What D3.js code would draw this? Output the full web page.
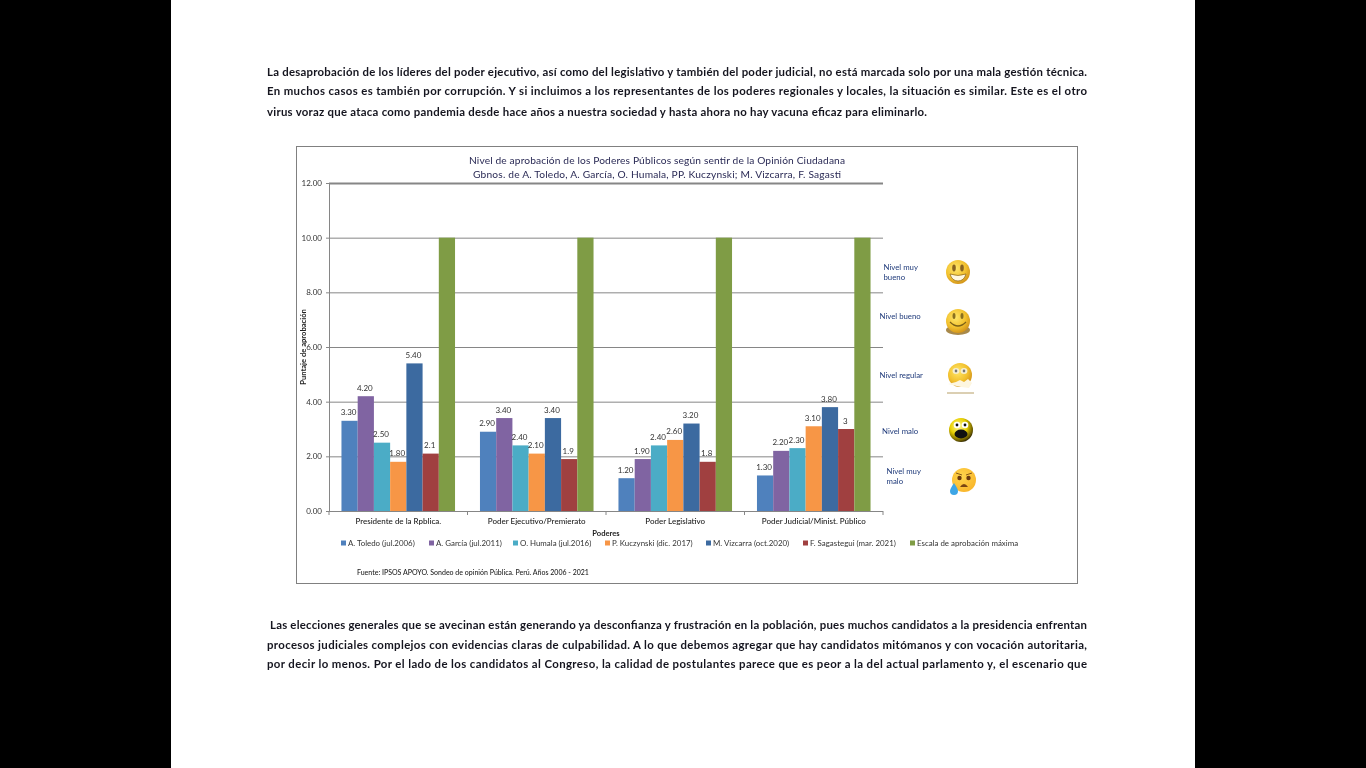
<!DOCTYPE html>
<html lang="es"><head><meta charset="utf-8">
<script src="https://cdnjs.cloudflare.com/ajax/libs/d3/7.8.5/d3.min.js"></script>
<style>
html,body{margin:0;padding:0;background:#000;overflow:hidden}
svg{display:block;filter:blur(.45px)}
text{font-family:Lato,"Noto Sans",sans-serif}
</style></head><body><svg id="c" width="1366" height="768"></svg>
<script>
const categories=["Presidente de la Rpblica.","Poder Ejecutivo/Premierato","Poder Legislativo","Poder Judicial/Minist. Público"];
const seriesNames=["A. Toledo (jul.2006)","A. García (jul.2011)","O. Humala (jul.2016)","P. Kuczynski (dic. 2017)","M. Vizcarra (oct.2020)","F. Sagastegui (mar. 2021)","Escala de aprobación máxima"];
const seriesColors=["#4f81bd","#8064a2","#4bacc6","#f79646","#3c6aa0","#a04040","#7f9c45"];
const toledo=[3.3,2.9,1.2,1.3];
const garcia=[4.2,3.4,1.9,2.2];
const humala=[2.5,2.4,2.4,2.3];
const kuczynski=[1.8,2.1,2.6,3.1];
const vizcarra=[5.4,3.4,3.2,3.8];
const sagasti=[2.1,1.9,1.8,3];
const maxima=[10,10,10,10];
const seriesValues=[toledo,garcia,humala,kuczynski,vizcarra,sagasti,maxima];
const seriesLabels=[["3.30","2.90","1.20","1.30"],["4.20","3.40","1.90","2.20"],["2.50","2.40","2.40","2.30"],["1.80","2.10","2.60","3.10"],["5.40","3.40","3.20","3.80"],["2.1","1.9","1.8","3"],null];
const yTicks=[0,2,4,6,8,10,12];
const titleLines=["Nivel de aprobación de los Poderes Públicos según sentir de la Opinión Ciudadana","Gbnos. de A. Toledo, A. García, O. Humala, PP. Kuczynski; M. Vizcarra, F. Sagasti"];
const paragraphTop=["La desaprobación de los líderes del poder ejecutivo, así como del legislativo y también del poder judicial, no está marcada solo por una mala gestión técnica.","En muchos casos es también por corrupción. Y si incluimos a los representantes de los poderes regionales y locales, la situación es similar. Este es el otro","virus voraz que ataca como pandemia desde hace años a nuestra sociedad y hasta ahora no hay vacuna eficaz para eliminarlo."];
const paragraphBottom=["Las elecciones generales que se avecinan están generando ya desconfianza y frustración en la población, pues muchos candidatos a la presidencia enfrentan","procesos judiciales complejos con evidencias claras de culpabilidad. A lo que debemos agregar que hay candidatos mitómanos y con vocación autoritaria,","por decir lo menos. Por el lado de los candidatos al Congreso, la calidad de postulantes parece que es peor a la del actual parlamento y, el escenario que"];
const sourceNote="Fuente: IPSOS APOYO. Sondeo de opinión Pública. Perú. Años 2006 - 2021";
const levels=[
 {lines:["Nivel muy","bueno"],x:883.5,y:267,face:"grin",fx:958,fy:272},
 {lines:["Nivel bueno"],x:879.5,y:316,face:"smile",fx:958,fy:321},
 {lines:["Nivel regular"],x:879.5,y:375,face:"think",fx:960,fy:375},
 {lines:["Nivel malo"],x:882,y:431,face:"shock",fx:961,fy:430},
 {lines:["Nivel muy","malo"],x:886.5,y:471,face:"cry",fx:964,fy:480}];

const svg=d3.select("#c");
svg.append("rect").attr("x",171).attr("y",0).attr("width",1024).attr("height",768).attr("fill","#fff");

function para(lines,ys,xs,ends){
  svg.append("g").selectAll("text").data(lines).join("text")
   .attr("x",(d,i)=>xs[i]).attr("y",(d,i)=>ys[i]).attr("textLength",(d,i)=>ends[i]-xs[i])
   .attr("lengthAdjust","spacing").attr("font-size",11.4).attr("font-weight",700).attr("fill","#15151f").text(d=>d);
}
para(paragraphTop,[76,95,116],[267,267,267],[1087,1087,927]);
para(paragraphBottom,[629,649,668],[270,267,267],[1087,1087,1087]);

svg.append("rect").attr("x",296.5).attr("y",146.5).attr("width",781).attr("height",437).attr("fill","#fff").attr("stroke","#808080").attr("stroke-width",1);

const x0=d3.scaleBand().domain(categories).range([329,883]).paddingInner(0.18).paddingOuter(0.09);
const x1=d3.scaleBand().domain(d3.range(seriesNames.length)).range([0,x0.bandwidth()]);
const y=d3.scaleLinear().domain([0,12]).range([511,183]);

const grid=svg.append("g").attr("transform","translate(329,0)")
 .call(d3.axisLeft(y).tickValues(yTicks).tickSize(-554).tickFormat(d=>d3.format(".2f")(d)).tickPadding(7));
grid.select(".domain").attr("stroke","#868686");
grid.selectAll(".tick line").attr("stroke","#868686").attr("stroke-width",d=>d===12?1.8:1);
grid.selectAll(".tick").append("line").attr("x1",-3).attr("x2",0).attr("stroke","#868686");
grid.selectAll(".tick text").attr("font-size",8).attr("fill","#333").attr("font-family","Lato,sans-serif");

const groups=svg.append("g").selectAll("g").data(seriesValues).join("g").attr("fill",(d,i)=>seriesColors[i]);
groups.each(function(vals,s){
  d3.select(this).selectAll("rect").data(vals).join("rect")
   .attr("x",(d,i)=>x0(categories[i])+x1(s)).attr("width",x1.bandwidth())
   .attr("y",d=>y(d)).attr("height",d=>y(0)-y(d));
  if(seriesLabels[s]) d3.select(this).selectAll("text").data(vals).join("text")
   .attr("x",(d,i)=>x0(categories[i])+x1(s)+x1.bandwidth()/2-1).attr("y",d=>y(d)-5.5)
   .attr("text-anchor","middle").attr("font-size",8).attr("fill","#333")
   .text((d,i)=>seriesLabels[s][i]);
});

const xAxis=svg.append("g").attr("transform","translate(0,511)")
 .call(d3.axisBottom(x0).tickSize(0).tickPadding(7));
xAxis.select(".domain").remove();
xAxis.selectAll("text").attr("font-size",8).attr("fill","#222").attr("font-family","Lato,sans-serif").attr("font-weight",500);
const step=554/4;
svg.append("line").attr("x1",329).attr("x2",883).attr("y1",511.5).attr("y2",511.5).attr("stroke","#868686").attr("stroke-width",1.2);
svg.append("g").selectAll("line").data(d3.range(5)).join("line")
 .attr("x1",d=>329+d*step).attr("x2",d=>329+d*step).attr("y1",511).attr("y2",515).attr("stroke","#868686");

svg.append("g").selectAll("text").data(titleLines).join("text").attr("x",657).attr("y",(d,i)=>164+i*14)
 .attr("text-anchor","middle").attr("font-size",10.2).attr("textLength",(d,i)=>i?368:376).attr("lengthAdjust","spacing").attr("fill","#2a2a55").text(d=>d);
svg.append("text").attr("x",606).attr("y",536).attr("text-anchor","middle").attr("font-size",7.6).attr("font-weight",700).attr("fill","#222").text("Poderes");
svg.append("text").attr("transform","translate(306,347) rotate(-90)").attr("text-anchor","middle").attr("font-size",7.6).attr("font-weight",700).attr("fill","#222").text("Puntaje de aprobación");

const legendX=[341,429,513,605,706,803,910];
const leg=svg.append("g").selectAll("g").data(seriesNames).join("g").attr("transform",(d,i)=>`translate(${legendX[i]},543)`);
leg.append("rect").attr("x",0).attr("y",-2.5).attr("width",5).attr("height",5).attr("fill",(d,i)=>seriesColors[i]);
leg.append("text").attr("x",7).attr("y",2.6).attr("font-size",7.9).attr("fill","#333").text(d=>d);
svg.append("text").attr("x",357).attr("y",575).attr("font-size",7).attr("font-weight",500).attr("fill","#222").text(sourceNote);

const lev=svg.append("g");
levels.forEach(l=>{
  l.lines.forEach((t,i)=>lev.append("text").attr("x",l.x).attr("y",l.y+2.5+i*10).attr("font-size",7.8).attr("fill","#1f3a7a").text(t));
});
const defs=svg.append("defs");
function grad(id,stops){const g=defs.append("radialGradient").attr("id",id).attr("cx","40%").attr("cy","35%").attr("r","70%");
  stops.forEach(([o,c])=>g.append("stop").attr("offset",o).attr("stop-color",c));}
grad("gy",[["0%","#ffe76a"],["60%","#f2c12e"],["100%","#cf8f18"]]);
grad("gs",[["0%","#fff89a"],["50%","#e8d000"],["85%","#6a5a00"],["100%","#1a1400"]]);
grad("gc",[["0%","#ffd64d"],["100%","#f9b52a"]]);
const F=svg.append("g");
levels.forEach(l=>{
  const g=F.append("g").attr("transform",`translate(${l.fx},${l.fy})`);
  const fill={grin:"gy",smile:"gy",think:"gy",shock:"gs",cry:"gc"}[l.face];
  if(l.face==="smile") g.append("ellipse").attr("cx",0).attr("cy",9).attr("rx",12).attr("ry",5).attr("fill","#a8894a");
  if(l.face==="think") g.append("line").attr("x1",-13).attr("x2",14).attr("y1",18).attr("y2",18).attr("stroke","#b79f66").attr("stroke-width",1);
  g.append("circle").attr("r",12).attr("fill",`url(#${fill})`);
  const eye=(x,y,rx,ry,c)=>g.append("ellipse").attr("cx",x).attr("cy",y).attr("rx",rx).attr("ry",ry).attr("fill",c);
  if(l.face==="grin"){eye(-4,-4,1.8,3.4,"#8a6420");eye(4,-4,1.8,3.4,"#8a6420");
    g.append("path").attr("d","M-8,2 Q0,5 8,2 Q6,9 0,9 Q-6,9 -8,2Z").attr("fill","#fff8e0").attr("stroke","#8a6420").attr("stroke-width",.7);}
  if(l.face==="smile"){eye(-4,-5,1.5,3,"#8a7020");eye(4,-5,1.5,3,"#8a7020");
    g.append("path").attr("d","M-8,1 Q0,9 8,1").attr("fill","none").attr("stroke","#7a6018").attr("stroke-width",1.2);}
  if(l.face==="think"){eye(-4,-4,3.4,3,"#f5eed0");eye(4,-4,3.4,3,"#f5eed0");eye(-4,-4,1.3,1.4,"#777");eye(4,-4,1.3,1.4,"#777");
    g.append("path").attr("d","M-12,9 L-4,7 L0,5 L4,7 L8,4 L12,8 L9,13 L1,12 Z").attr("fill","#fdf6e0");}
  if(l.face==="shock"){eye(-4,-5,3.3,3.3,"#fff");eye(4,-5,3.3,3.3,"#fff");eye(-4,-5,1.4,1.4,"#111");eye(4,-5,1.4,1.4,"#111");eye(0,4,6.5,4.4,"#111");}
  if(l.face==="cry"){eye(-4.5,-2,2.2,2.2,"#6b3a10");eye(4.5,-2,2.2,2.2,"#6b3a10");
    g.append("path").attr("d","M-8,-7 L-2,-5 M8,-7 L2,-5").attr("stroke","#8a5a18").attr("stroke-width",1);
    g.append("path").attr("d","M-4,7 Q0,1 4,7 Z").attr("fill","#7a4512");
    g.append("path").attr("d","M-10,3 Q-14,9 -14,11 A4,4 0 0 0 -6,11 Q-6,9 -10,3Z").attr("fill","#3ea6e6");}
});
</script></body></html>
